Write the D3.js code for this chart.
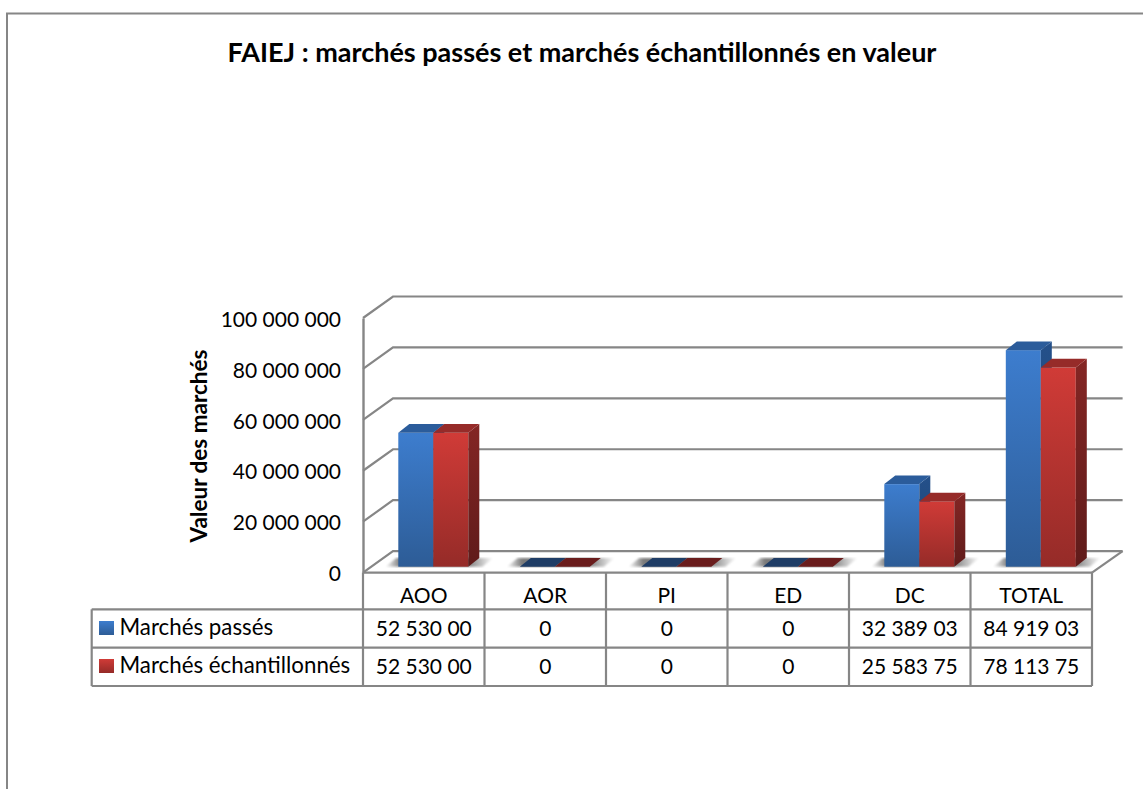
<!DOCTYPE html>
<html>
<head>
<meta charset="utf-8">
<script src="https://cdn.jsdelivr.net/npm/d3@7"></script>
<style>
    html, body { margin: 0; padding: 0; background: #fff; }
    svg { display: block; }
    text { font-family: Lato, "Open Sans", sans-serif; fill: #000; }
</style>
</head>
<body>
<svg id="chart"></svg>
<script>
const categories = ["AOO", "AOR", "PI", "ED", "DC", "TOTAL"];
const seriesNames = ["Marchés passés", "Marchés échantillonnés"];
const passes = [52530000, 0, 0, 0, 32389030, 84919030];
const echantillonnes = [52530000, 0, 0, 0, 25583750, 78113750];
const passesLabels = ["52 530 00", "0", "0", "0", "32 389 03", "84 919 03"];
const echantillonnesLabels = ["52 530 00", "0", "0", "0", "25 583 75", "78 113 75"];
const yTicks = [0, 20000000, 40000000, 60000000, 80000000, 100000000];

const width = 1143, height = 789;
const lineColor = "#868686";
const depthX = 30, depthY = 21.5;      // wall depth
const barDX = 11, barDY = 8.7;         // bar depth

const svg = d3.select("#chart").attr("width", width).attr("height", height);
const defs = svg.append("defs");

function vGradient(id, top, bottom) {
    const g = defs.append("linearGradient").attr("id", id)
        .attr("x1", 0).attr("y1", 0).attr("x2", 0).attr("y2", 1);
    g.append("stop").attr("offset", "0%").attr("stop-color", top);
    g.append("stop").attr("offset", "100%").attr("stop-color", bottom);
}
vGradient("front0", "#3d7dce", "#2d5c96");
vGradient("front1", "#d03b37", "#952b28");
vGradient("side0", "#24508a", "#1f4472");
vGradient("side1", "#842624", "#5f1b1a");

const shadow = defs.append("linearGradient").attr("id", "shadow");
shadow.append("stop").attr("offset", "0%").attr("stop-color", "#fff");
shadow.append("stop").attr("offset", "14%").attr("stop-color", "#7a7a7a");
shadow.append("stop").attr("offset", "76%").attr("stop-color", "#7a7a7a");
shadow.append("stop").attr("offset", "100%").attr("stop-color", "#fff");

defs.append("filter").attr("id", "soft").append("feGaussianBlur").attr("stdDeviation", 1);

const x0 = d3.scaleBand().domain(categories).range([363, 1092]);
const x1 = d3.scaleBand().domain([0, 1]).range([35.3, 105.3]);
// front plane of the axis, and the plane the bars stand on
const yAxisScale = d3.scaleLinear().domain([0, 100000000]).range([572.6, 318]);
const yBar = d3.scaleLinear().domain([0, 100000000]).range([566.7, 311.7]);
const fmt = d3.formatLocale({ thousands: " ", grouping: [3], decimal: ",", currency: ["", ""] }).format(",d");

// outer frame, cut by the edge of the picture
svg.append("path")
    .attr("d", d3.line()([[7, height], [7, 13.5], [width, 13.5]]))
    .attr("fill", "none").attr("stroke", lineColor).attr("stroke-width", 2);

svg.append("text")
    .attr("x", 582).attr("y", 62)
    .attr("text-anchor", "middle")
    .style("font-size", "27px").style("font-weight", "bold")
    .text("FAIEJ : marchés passés et marchés échantillonnés en valeur");

// walls
svg.append("g").selectAll("path")
    .data(yTicks)
    .enter().append("path")
    .attr("d", d => {
        const y = yAxisScale(d);
        return d3.line()([[363, y], [363 + depthX, y - depthY], [1122.6, y - depthY]]);
    })
    .attr("fill", "none").attr("stroke", lineColor).attr("stroke-width", 2.2);

svg.append("path")
    .attr("d", d3.line()([[1092, yAxisScale(0)], [1122.6, yAxisScale(0) - depthY]]))
    .attr("fill", "none").attr("stroke", lineColor).attr("stroke-width", 2.2);

// axis
const axis = svg.append("g")
    .attr("transform", "translate(363,0)")
    .call(d3.axisLeft(yAxisScale).tickValues(yTicks).tickSize(0).tickPadding(22).tickFormat(fmt));
axis.select(".domain").attr("stroke", lineColor).attr("stroke-width", 2.4);
axis.selectAll("text").attr("y", 1.5).style("font-size", "21px").style("font-family", "Lato, sans-serif");

svg.append("text")
    .attr("transform", "translate(207,446) rotate(-90)")
    .attr("text-anchor", "middle")
    .style("font-size", "22.5px").style("font-weight", "bold")
    .text("Valeur des marchés");

// bars
const rows = categories.map((c, i) => ({ c, values: [passes[i], echantillonnes[i]] }));

const groups = svg.append("g").selectAll("g")
    .data(rows)
    .enter().append("g");

groups.append("path")
    .attr("d", d => {
        const l = x0(d.c) + x1(0) - 13, r = x0(d.c) + x1(1) + x1.bandwidth() + 25, b = yBar(0), t = b - barDY;
        return `M${l},${b}L${l + barDX},${t}L${r},${t}L${r - barDX},${b}Z`;
    })
    .attr("fill", "url(#shadow)")
    .attr("filter", "url(#soft)");

groups.each(function(d) {
    const g = d3.select(this);
    d.values.forEach((v, s) => {
        const x = x0(d.c) + x1(s), w = x1.bandwidth(), t = yBar(v), b = yBar(0);
        if (v > 0) {
            g.append("rect").attr("x", x).attr("y", t).attr("width", w).attr("height", b - t)
                .attr("fill", `url(#front${s})`);
            g.append("path")
                .attr("d", `M${x + w},${t}L${x + w + barDX},${t - barDY}L${x + w + barDX},${b - barDY}L${x + w},${b}Z`)
                .attr("fill", `url(#side${s})`);
        }
        g.append("path")
            .attr("d", `M${x},${t}L${x + barDX},${t - barDY}L${x + w + barDX},${t - barDY}L${x + w},${t}Z`)
            .attr("fill", v > 0 ? ["#2b5c9b", "#962b29"][s] : ["#1f3d66", "#6a1d1d"][s]);
    });
});

// data table
const rowY = [572.6, 609.3, 647.7, 686];
const colX = categories.map(c => x0(c)).concat(1092);
const table = svg.append("g").attr("stroke", lineColor).attr("stroke-width", 2.2);

table.selectAll(".h")
    .data(rowY)
    .enter().append("line")
    .attr("x1", (d, i) => i < 1 ? 363 : 91.7).attr("x2", 1092)
    .attr("y1", d => d).attr("y2", d => d);
table.selectAll(".v")
    .data(colX)
    .enter().append("line")
    .attr("x1", d => d).attr("x2", d => d)
    .attr("y1", 572.6).attr("y2", 686);
table.append("line")
    .attr("x1", 91.7).attr("x2", 91.7).attr("y1", 609.3).attr("y2", 686);

const cellText = (labels, y) => svg.append("g").selectAll("text")
    .data(labels)
    .enter().append("text")
    .attr("x", (d, i) => x0(categories[i]) + x0.bandwidth() / 2)
    .attr("y", y)
    .attr("text-anchor", "middle")
    .style("font-size", "21px")
    .text(d => d);

cellText(categories, 603);
cellText(passesLabels, 635.5);
cellText(echantillonnesLabels, 674);

const legend = svg.append("g").selectAll("g")
    .data(seriesNames)
    .enter().append("g")
    .attr("transform", (d, i) => `translate(99,${[621, 659][i]})`);
legend.append("rect")
    .attr("width", 15).attr("height", 14)
    .attr("fill", (d, i) => `url(#front${i})`);
legend.append("text")
    .attr("x", 20.5).attr("y", 14)
    .style("font-size", "22.3px")
    .text(d => d);
</script>
</body>
</html>
